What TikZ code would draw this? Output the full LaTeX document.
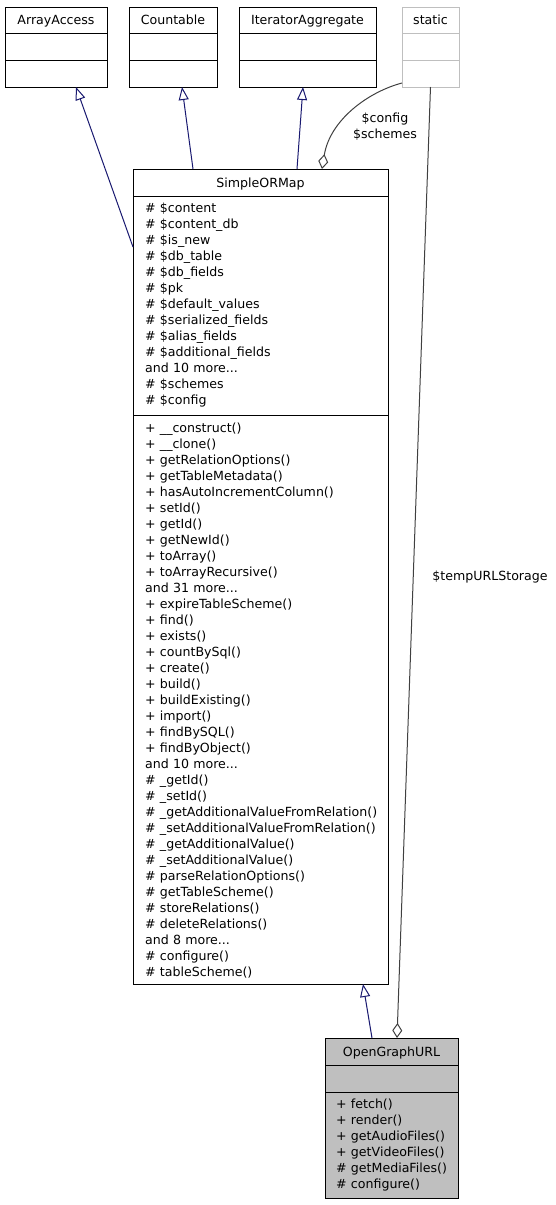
\documentclass[tikz,border=0pt]{standalone}
\usepackage{fontspec}
\setmainfont{DejaVu Sans}
\usepackage{tikz}
\usetikzlibrary{positioning,arrows.meta}
\definecolor{edgeblue}{RGB}{25,25,112}
\definecolor{edgegray}{RGB}{64,64,64}
\definecolor{staticgray}{RGB}{191,191,191}

\begin{document}
\begin{tikzpicture}[x=1pt,y=-1pt]
    \tikzstyle{every node}=[font=\fontsize{12.6}{16}\selectfont]
    \tikzstyle{part}=[rectangle,draw,line width=1pt,inner sep=0pt,outer sep=0pt]
    \tikzstyle{title}=[part,anchor=north west,text height=12pt,text depth=3pt]
    \tikzstyle{members}=[anchor=base west,align=left,text width=250pt,inner sep=0pt]
    \tikzstyle{inherit}=[draw=edgeblue,line width=1pt,-{Triangle[open,length=13pt,width=10pt]}]
    \tikzstyle{aggregate}=[draw=edgegray,line width=1pt,-{Diamond[open,length=15pt,width=10pt]}]
    \useasboundingbox (0,0) rectangle (555,1205);
    \node[title,minimum width=102pt,minimum height=26pt] (arrayaccess) at (5,7) {ArrayAccess};
    \node[part,minimum width=102pt,minimum height=27pt,below=0pt of arrayaccess] (arrayaccessattr) {};
    \node[part,minimum width=102pt,minimum height=27pt,below=0pt of arrayaccessattr] (arrayaccessmeth) {};
    \node[title,minimum width=88pt,minimum height=26pt] (countable) at (129,7) {Countable};
    \node[part,minimum width=88pt,minimum height=27pt,below=0pt of countable] (countableattr) {};
    \node[part,minimum width=88pt,minimum height=27pt,below=0pt of countableattr] (countablemeth) {};
    \node[title,minimum width=137pt,minimum height=26pt] (iteratoraggregate) at (239,7) {IteratorAggregate};
    \node[part,minimum width=137pt,minimum height=27pt,below=0pt of iteratoraggregate] (iteratoraggregateattr) {};
    \node[part,minimum width=137pt,minimum height=27pt,below=0pt of iteratoraggregateattr] (iteratoraggregatemeth) {};
    \node[title,draw=staticgray,minimum width=57pt,minimum height=26pt] (static) at (402,7) {static};
    \node[part,draw=staticgray,minimum width=57pt,minimum height=27pt,below=0pt of static] (staticattr) {};
    \node[part,draw=staticgray,minimum width=57pt,minimum height=27pt,below=0pt of staticattr] (staticmeth) {};
    \node[title,minimum width=255pt,minimum height=27pt] (simpleormap) at (133,169) {SimpleORMap};
    \node[part,minimum width=255pt,minimum height=219pt,below=0pt of simpleormap] (simpleormapattr) {};
    \node[part,minimum width=255pt,minimum height=569pt,below=0pt of simpleormapattr] (simpleormapmeth) {};
    \node[members] (simpleormapattrtext) at ([shift={(12,16.5)}]simpleormapattr.north west) {\# \$content\\
      \# \$content\_db\\ \# \$is\_new\\ \# \$db\_table\\ \# \$db\_fields\\ \# \$pk\\ \# \$default\_values\\
      \# \$serialized\_fields\\ \# \$alias\_fields\\ \# \$additional\_fields\\ and 10 more...\\
      \# \$schemes\\ \# \$config};
    \node[members] (simpleormapmethtext) at ([shift={(12,17)}]simpleormapmeth.north west) {+ \_\_construct()\\
      + \_\_clone()\\ + getRelationOptions()\\ + getTableMetadata()\\ + hasAutoIncrementColumn()\\
      + setId()\\ + getId()\\ + getNewId()\\ + toArray()\\ + toArrayRecursive()\\ and 31 more...\\
      + expireTableScheme()\\ + find()\\ + exists()\\ + countBySql()\\ + create()\\ + build()\\
      + buildExisting()\\ + import()\\ + findBySQL()\\ + findByObject()\\ and 10 more...\\
      \# \_getId()\\ \# \_setId()\\ \# \_getAdditionalValueFromRelation()\\
      \# \_setAdditionalValueFromRelation()\\ \# \_getAdditionalValue()\\ \# \_setAdditionalValue()\\
      \# parseRelationOptions()\\ \# getTableScheme()\\ \# storeRelations()\\ \# deleteRelations()\\
      and 8 more...\\ \# configure()\\ \# tableScheme()};
    \node[title,fill=staticgray,minimum width=133pt,minimum height=27pt] (opengraphurl) at (325,1038) {OpenGraphURL};
    \node[part,fill=staticgray,minimum width=133pt,minimum height=27pt,below=0pt of opengraphurl] (opengraphurlattr) {};
    \node[part,fill=staticgray,minimum width=133pt,minimum height=106pt,below=0pt of opengraphurlattr] (opengraphurlmeth) {};
    \node[members] (opengraphurlmethtext) at ([shift={(11,16.5)}]opengraphurlmeth.north west) {+ fetch()\\
      + render()\\ + getAudioFiles()\\ + getVideoFiles()\\ \# getMediaFiles()\\ \# configure()};
    \coordinate (arrayaccesstip) at ([shift={(71,0)}]arrayaccessmeth.south west);
    \coordinate (countabletip) at ([shift={(53,0)}]countablemeth.south west);
    \coordinate (iteratoraggregatetip) at ([shift={(64,0)}]iteratoraggregatemeth.south west);
    \coordinate (ormtoarrayaccess) at ([shift={(0,51)}]simpleormapattr.north west);
    \coordinate (ormtocountable) at ([shift={(60,0)}]simpleormap.north west);
    \coordinate (ormtoiteratoraggregate) at ([shift={(164,0)}]simpleormap.north west);
    \coordinate (ormdiamond) at ([shift={(189,0)}]simpleormap.north west);
    \coordinate (ormtip) at ([shift={(230,0)}]simpleormapmeth.south west);
    \coordinate (staticout) at ([shift={(0,76)}]static.north west);
    \coordinate (ogtoorm) at ([shift={(47,0)}]opengraphurl.north west);
    \coordinate (ogdiamond) at ([shift={(72,0)}]opengraphurl.north west);
    \draw[inherit] (ormtoarrayaccess) -- (arrayaccesstip);
    \draw[inherit] (ormtocountable) -- (countabletip);
    \draw[inherit] (ormtoiteratoraggregate) -- (iteratoraggregatetip);
    \draw[inherit] (ogtoorm) -- (ormtip);
    \draw[aggregate] (staticout) .. controls (368,92) and (330,120) .. (ormdiamond);
    \draw[aggregate] (staticmeth.south) -- (ogdiamond);
    \node[align=center] (configlabel) at (385,127) {\$config\\\$schemes};
    \node (storagelabel) at (490,577) {\$tempURLStorage};
\end{tikzpicture}
\end{document}
